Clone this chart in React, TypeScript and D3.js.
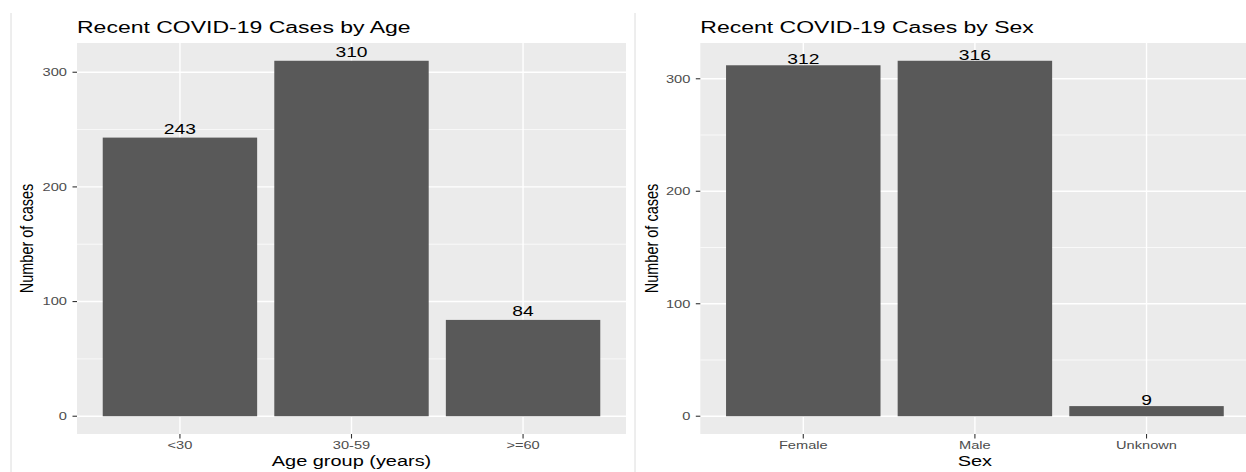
import React, { useEffect, useRef } from 'react';
import * as d3 from 'd3';

const ageGroups = ['<30', '30-59', '>=60'];
const ageCases = [243, 310, 84];
const sexGroups = ['Female', 'Male', 'Unknown'];
const sexCases = [312, 316, 9];
const yTicks = [0, 100, 200, 300];
const yMinor = [50, 150, 250];

const WIDTH = 1246;
const HEIGHT = 472;
const SX = 1.33; // the picture is stretched sideways, so the glyphs are too
const FONT = '"Liberation Sans", Arial, Helvetica, sans-serif';

interface PanelSpec {
  title: string;
  xTitle: string;
  cats: string[];
  values: number[];
  left: number;
  right: number;
  labelGap: number;
  yTitleX: number;
}

const panels: PanelSpec[] = [
  { title: 'Recent COVID-19 Cases by Age', xTitle: 'Age group (years)', cats: ageGroups, values: ageCases, left: 77, right: 626, labelGap: 4, yTitleX: 33 },
  { title: 'Recent COVID-19 Cases by Sex', xTitle: 'Sex', cats: sexGroups, values: sexCases, left: 700.3, right: 1249.5, labelGap: 1, yTitleX: 658 },
];

const top = 43;
const bottom = 434;

const App: React.FC = () => {
  const svgRef = useRef<SVGSVGElement>(null);

  useEffect(() => {
    if (!svgRef.current) return;
    const svg = d3.select(svgRef.current);
    svg.selectAll('*').remove();

    // container borders
    svg.append('line').attr('x1', 11).attr('x2', 11).attr('y1', 13).attr('y2', HEIGHT).attr('stroke', '#dcdcdc').attr('stroke-width', 1);
    svg.append('line').attr('x1', 635).attr('x2', 635).attr('y1', 13).attr('y2', HEIGHT).attr('stroke', '#dcdcdc').attr('stroke-width', 1);

    const stretchText = (g: d3.Selection<SVGGElement, unknown, null, undefined>, x: number, y: number, txt: string, size: number, fill: string, anchor: string, rotate = 0) => {
      g.append('text')
        .attr('transform', `translate(${x},${y}) scale(${SX},1)${rotate ? ` rotate(${rotate})` : ''}`)
        .attr('text-anchor', anchor)
        .attr('font-family', FONT)
        .attr('font-size', size)
        .attr('fill', fill)
        .text(txt);
    };

    panels.forEach(p => {
      const g = svg.append('g');
      const maxV = d3.max(p.values) as number;
      const y = d3.scaleLinear().domain([-maxV * 0.05, maxV * 1.05]).range([bottom, top]);
      const x = d3.scaleBand<string>().domain(p.cats).range([p.left, p.right]).paddingInner(0.1).paddingOuter(0.15);

      g.append('rect').attr('x', p.left).attr('y', top).attr('width', p.right - p.left).attr('height', bottom - top).attr('fill', '#ebebeb');

      yMinor.forEach(t => {
        g.append('line').attr('x1', p.left).attr('x2', p.right).attr('y1', y(t)).attr('y2', y(t)).attr('stroke', '#fff').attr('stroke-width', 0.7);
      });
      yTicks.forEach(t => {
        g.append('line').attr('x1', p.left).attr('x2', p.right).attr('y1', y(t)).attr('y2', y(t)).attr('stroke', '#fff').attr('stroke-width', 1.4);
      });
      p.cats.forEach(c => {
        const cx = (x(c) as number) + x.bandwidth() / 2;
        g.append('line').attr('x1', cx).attr('x2', cx).attr('y1', top).attr('y2', bottom).attr('stroke', '#fff').attr('stroke-width', 1.4);
      });

      // bars and value labels
      p.cats.forEach((c, i) => {
        const v = p.values[i];
        const bx = x(c) as number;
        g.append('rect').attr('x', bx).attr('y', y(v)).attr('width', x.bandwidth()).attr('height', y(0) - y(v)).attr('fill', '#595959');
        stretchText(g, bx + x.bandwidth() / 2, y(v) - p.labelGap, String(v), 14.5, '#000', 'middle');
      });

      // y axis
      yTicks.forEach(t => {
        g.append('line').attr('x1', p.left - 4.5).attr('x2', p.left).attr('y1', y(t)).attr('y2', y(t)).attr('stroke', '#333').attr('stroke-width', 1.1);
        stretchText(g, p.left - 10, y(t) + 3.9, String(t), 11, '#4d4d4d', 'end');
      });

      // x axis
      p.cats.forEach(c => {
        const cx = (x(c) as number) + x.bandwidth() / 2;
        g.append('line').attr('x1', cx).attr('x2', cx).attr('y1', bottom).attr('y2', bottom + 4.5).attr('stroke', '#333').attr('stroke-width', 1.1);
        stretchText(g, cx, 448.5, c, 11, '#4d4d4d', 'middle');
      });

      stretchText(g, p.left, 33.3, p.title, 17.3, '#000', 'start');
      stretchText(g, (p.left + p.right) / 2, 465.5, p.xTitle, 15, '#000', 'middle');
      stretchText(g, p.yTitleX, (top + bottom) / 2, 'Number of cases', 14.5, '#000', 'middle', -90);
    });
  }, []);

  return (
    <svg
      ref={svgRef}
      width={WIDTH}
      height={HEIGHT}
      style={{ position: 'absolute', left: 0, top: 0, background: '#fff' }}
    />
  );
};

export default App;
